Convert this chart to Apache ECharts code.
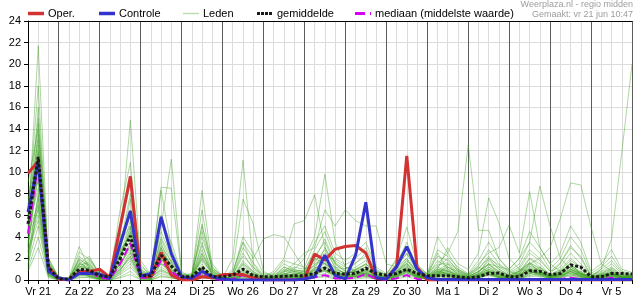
<!DOCTYPE html>
<html><head><meta charset="utf-8">
<script src="https://cdn.jsdelivr.net/npm/echarts@6/dist/echarts.min.js"></script>
<style>html,body{margin:0;padding:0;background:#fff}#c{width:635px;height:300px}</style>
</head><body><div id="c"></div>
<script>
// Day labels (shown at 12:00 of each day)
const dayLabels = ['Vr 21','Za 22','Zo 23','Ma 24','Di 25','Wo 26','Do 27','Vr 28','Za 29','Zo 30','Ma 1','Di 2','Wo 3','Do 4','Vr 5','Za 6'];
const stepHours = ['00:00','06:00','12:00','18:00'];
const yTicks = [0,2,4,6,8,10,12,14,16,18,20,22,24];
const legendNames = ['Oper.','Controle','Leden','gemiddelde','mediaan (middelste waarde)'];

// Operational run (mm)
const oper = [9.9,11.0,1.2, 0.1,0.0,0.7,0.8, 1.0,0.25,4.9,9.6, 0.45,0.3,2.55,0.45, 0.0,0.0,0.3,0.2, 0.5,0.5,0.5,0.2, 0.0,0.0,0.0,0.0, 0.1,2.4,1.85,2.85, 3.1,3.2,2.5,0.15, 0.1,1.25,11.5,1.2, 0.0,0.0,0.0,0.0, 0.0,0.0,0.0,0.0, 0.0,0.0,0.0,0.0, 0.0,0.0,0.0,0.0, 0.0,0.0,0.0,0.0, 0.0];
// Control run
const controle = [6.3,10.9,0.8, 0.2,0.0,0.6,0.6, 0.55,0.15,3.3,6.4, 0.35,0.6,5.85,2.45, 0.3,0.15,0.8,0.3, 0.1,0.0,0.0,0.0, 0.0,0.0,0.0,0.0, 0.1,0.3,2.3,0.4, 0.1,2.3,7.2,0.2, 0.1,1.2,3.1,1.0, 0.2,0.05,0.05,0.05, 0.05,0.05,0.05,0.05, 0.05,0.05,0.05,0.05, 0.05,0.05,0.05,0.05, 0.05,0.05,0.05,0.05, 0.05];
// Ensemble mean
const gemiddelde = [5.2,11.4,1.2, 0.1,0.1,1.0,0.9, 0.4,0.3,2.0,4.1, 0.4,0.4,2.3,1.3, 0.3,0.3,1.2,0.3, 0.3,0.45,1.0,0.4, 0.3,0.3,0.35,0.4, 0.4,0.6,1.1,0.6, 0.55,0.6,1.1,0.6, 0.45,0.6,1.0,0.6, 0.4,0.4,0.4,0.3, 0.2,0.3,0.6,0.65, 0.3,0.3,0.85,0.8, 0.5,0.6,1.4,1.2, 0.3,0.3,0.6,0.6, 0.55];
// Ensemble median
const mediaan = [4.3,10.8,1.0, 0.0,0.0,0.8,0.8, 0.2,0.1,1.5,3.4, 0.2,0.2,1.8,0.8, 0.1,0.1,0.6,0.1, 0.0,0.1,0.45,0.1, 0.0,0.0,0.05,0.05, 0.05,0.25,0.45,0.15, 0.15,0.2,0.55,0.1, 0.0,0.15,0.45,0.1, 0.0,0.05,0.05,0.0, 0.0,0.0,0.05,0.05, 0.0,0.0,0.05,0.05, 0.0,0.1,0.2,0.1, 0.0,0.05,0.2,0.1, 0.0];

// Ensemble members (Leden)
const lid01 = [5.0,21.7,1.5, 0.1,0.0,1.2,0.8, 0.3,0.2,2.0,5.0, 0.6,0.2,3.0,1.0, 0.1,0.2,1.5,0.3, 0.0,0.2,1.0,0.4, 0.1,0.0,0.3,0.5, 0.4,1.5,2.0,0.8, 0.5,0.9,1.2,0.3, 0.1,0.8,1.5,0.5, 0.2,1.0,0.5,0.2, 0.1,0.4,1.5,0.6, 0.2,0.1,0.5,1.2, 0.3,0.2,1.0,0.5, 0.1,0.3,0.4,0.2, 0.3];
const lid02 = [6.0,18.0,1.0, 0.0,0.1,0.8,1.5, 0.2,0.1,4.0,14.8, 1.5,0.3,2.0,0.8, 0.0,0.1,0.5,0.2, 0.1,0.0,0.6,0.3, 0.0,0.1,0.2,0.4, 0.2,0.6,1.0,0.5, 0.3,0.4,0.8,0.2, 0.0,0.3,0.8,0.3, 0.1,0.5,1.5,0.4, 0.2,0.1,0.8,0.3, 0.1,0.4,1.0,0.6, 0.2,0.5,0.3,0.8, 0.2,0.1,0.6,0.3, 0.2];
const lid03 = [4.0,16.0,2.0, 0.2,0.0,1.5,1.0, 0.5,0.3,6.5,10.9, 0.8,0.2,1.5,0.6, 0.0,0.3,2.5,0.5, 0.2,0.3,1.5,0.8, 0.2,0.1,0.4,0.2, 0.3,1.0,3.0,1.5, 0.8,0.5,0.3,0.6, 0.2,1.0,2.0,0.6, 0.4,1.2,0.8,0.3, 0.2,0.6,2.0,1.0, 0.5,0.3,1.5,0.8, 0.3,0.8,1.5,0.6, 0.2,0.4,0.6,0.3, 0.4];
const lid04 = [3.0,14.5,1.2, 0.1,0.0,2.0,1.2, 0.2,0.1,1.5,3.0, 0.5,0.3,5.0,11.2, 0.8,0.2,1.0,0.3, 0.1,0.2,0.8,0.5, 0.1,0.2,0.5,0.8, 0.6,2.0,1.5,0.8, 0.4,0.6,1.0,0.4, 0.1,0.4,1.0,0.3, 0.2,0.8,0.6,0.4, 0.3,0.5,1.2,0.5, 0.2,0.6,2.0,1.5, 0.4,0.3,0.8,0.4, 0.1,0.3,0.5,0.2, 0.3];
const lid05 = [7.0,13.0,0.8, 0.0,0.1,1.0,0.6, 0.1,0.2,2.5,7.5, 0.4,0.5,8.6,8.5, 0.6,0.1,3.5,0.4, 0.0,0.1,0.5,0.2, 0.1,0.0,0.2,0.3, 0.3,0.8,1.2,0.5, 0.2,0.3,0.5,0.3, 0.1,0.5,1.2,0.4, 0.3,2.5,1.0,0.3, 0.1,0.3,0.8,0.4, 0.2,0.1,0.6,0.9, 0.1,0.3,0.6,0.2, 0.1,0.2,0.3,0.1, 0.2];
const lid06 = [5.5,12.5,1.8, 0.2,0.0,0.5,0.9, 0.3,0.1,1.8,4.5, 1.0,0.4,8.3,3.0, 0.5,0.3,8.3,1.2, 0.3,0.1,1.2,0.6, 0.2,0.1,0.3,0.2, 0.2,1.2,0.8,0.4, 0.6,0.8,0.4,0.2, 0.1,0.6,0.9,0.3, 0.2,0.4,0.3,0.1, 0.1,0.2,0.5,0.3, 0.1,0.2,0.4,0.6, 0.2,0.4,0.8,0.3, 0.1,0.2,0.4,0.2, 0.1];
const lid07 = [2.5,11.5,0.6, 0.0,0.1,1.5,2.2, 0.4,0.2,3.0,6.0, 0.3,0.1,2.5,1.5, 0.2,0.5,6.5,0.8, 0.2,2.0,11.1,1.5, 0.3,0.2,0.6,0.4, 0.3,0.5,0.9,0.4, 0.2,0.5,0.6,0.3, 0.2,0.8,1.5,0.5, 0.3,0.6,0.4,0.2, 0.1,0.3,0.6,0.2, 0.1,0.3,0.8,0.5, 0.2,0.6,1.2,0.7, 0.2,0.4,0.5,0.3, 0.2];
const lid08 = [6.5,11.0,1.4, 0.1,0.0,0.9,1.8, 0.6,0.3,2.2,5.5, 0.7,0.2,4.0,2.0, 0.3,0.2,5.2,1.0, 0.1,1.0,7.5,5.2, 0.8,0.3,0.4,0.3, 0.2,0.7,1.8,0.6, 0.4,0.3,0.7,0.2, 0.1,0.3,0.7,0.2, 0.2,0.3,0.2,0.1, 0.1,0.2,0.4,0.2, 0.1,0.2,0.3,0.4, 0.1,0.2,0.5,0.3, 0.1,0.1,0.3,0.1, 0.2];
const lid09 = [4.5,10.0,0.9, 0.0,0.2,3.1,1.0, 0.4,0.2,1.2,3.5, 0.4,0.6,3.5,1.0, 0.2,0.4,4.5,1.0, 0.4,0.6,3.5,2.0, 3.8,4.2,4.0,2.5, 1.0,2.5,1.5,0.8, 0.5,1.0,1.5,0.5, 0.2,0.5,1.0,0.4, 0.1,0.7,0.5,0.3, 0.2,0.4,0.8,0.3, 0.2,0.5,1.2,0.8, 0.4,0.6,0.9,0.5, 0.2,0.3,0.6,0.3, 0.3];
const lid10 = [3.5,9.5,0.7, 0.1,0.0,0.6,0.4, 0.1,0.0,0.8,2.5, 0.2,0.3,1.8,0.9, 0.1,0.1,0.9,0.2, 0.1,0.1,0.5,0.3, 0.3,0.8,2.0,5.2, 5.5,7.9,3.0,1.2, 0.6,0.8,0.6,0.3, 0.1,0.4,0.8,0.3, 0.2,0.5,0.4,0.2, 0.1,0.3,0.5,0.2, 0.1,0.2,0.6,0.3, 0.2,0.3,0.4,0.2, 0.1,0.2,0.3,0.1, 0.2];
const lid11 = [8.5,9.0,1.1, 0.2,0.1,1.8,0.7, 0.3,0.2,2.8,4.0, 0.5,0.2,2.0,0.7, 0.1,0.3,2.0,0.5, 0.1,0.2,0.7,0.4, 0.2,0.3,0.5,1.0, 2.0,4.0,9.8,3.5, 1.2,0.8,0.5,0.3, 0.2,0.6,1.2,0.4, 0.2,0.8,0.6,0.3, 0.2,0.4,0.7,0.3, 0.2,0.4,1.0,0.6, 0.3,0.4,0.7,0.4, 0.2,0.3,0.4,0.2, 0.3];
const lid12 = [2.0,8.0,0.5, 0.0,0.0,0.7,0.5, 0.2,0.1,1.0,2.0, 0.2,0.1,1.2,0.6, 0.0,0.2,1.2,0.3, 0.0,0.1,0.4,0.2, 0.1,0.2,0.8,1.5, 2.5,3.0,6.5,5.0, 6.5,5.5,5.0,5.0, 1.5,1.2,2.0,0.8, 0.4,1.0,0.8,0.4, 0.2,0.5,1.0,0.5, 0.3,0.4,0.8,0.5, 0.3,0.5,0.6,0.3, 0.1,0.3,0.5,0.2, 0.2];
const lid13 = [1.2,7.5,0.4, 0.0,0.1,1.0,0.3, 0.1,0.0,0.6,1.5, 0.1,0.0,0.8,0.4, 0.0,0.1,0.6,0.2, 0.0,0.1,0.3,0.2, 0.0,0.1,0.2,0.5, 0.8,1.8,2.5,1.8, 1.2,0.9,1.5,0.8, 0.5,2.0,4.9,1.5, 0.5,4.0,2.5,1.0, 0.5,1.2,0.8,0.4, 0.3,0.6,1.5,0.8, 0.4,0.8,1.5,0.6, 0.2,0.5,0.8,0.3, 0.4];
const lid14 = [4.2,7.0,0.8, 0.1,0.0,0.4,0.6, 0.2,0.1,1.5,2.8, 0.3,0.2,1.0,0.5, 0.1,0.2,1.0,0.4, 0.1,0.2,0.6,0.3, 0.1,0.2,0.4,0.6, 0.5,1.0,1.5,0.7, 0.4,0.6,0.8,0.4, 0.2,0.7,1.8,0.9, 0.6,1.5,2.5,4.5, 12.5,4.6,4.6,2.0, 0.8,0.5,1.0,0.7, 0.4,0.6,1.0,0.5, 0.2,0.4,0.6,0.3, 0.3];
const lid15 = [3.8,6.5,0.6, 0.0,0.1,0.8,1.2, 0.3,0.2,1.0,2.2, 0.2,0.1,1.5,0.8, 0.1,0.1,0.8,0.3, 0.1,0.1,0.5,0.3, 0.1,0.1,0.3,0.4, 0.4,0.9,1.2,0.6, 0.3,0.5,0.9,0.4, 0.2,0.5,1.0,0.5, 0.3,1.0,3.0,1.5, 1.0,2.5,7.6,5.3, 2.0,1.0,0.8,0.5, 0.3,0.5,0.8,0.4, 0.2,0.3,0.5,0.2, 0.2];
const lid16 = [2.8,6.0,0.5, 0.0,0.0,0.6,0.4, 0.1,0.1,0.7,1.8, 0.1,0.2,0.9,0.5, 0.0,0.1,0.5,0.2, 0.0,0.1,0.4,0.2, 0.0,0.1,0.2,0.3, 0.3,0.6,0.9,0.5, 0.2,0.4,0.6,0.3, 0.1,0.4,0.8,0.4, 0.2,0.6,1.2,0.8, 0.5,1.5,2.5,3.0, 5.1,2.5,8.2,3.0, 1.5,0.8,1.2,0.6, 0.3,0.5,0.7,0.3, 0.3];
const lid17 = [1.5,5.0,0.4, 0.0,0.0,0.5,0.3, 0.1,0.0,0.5,1.2, 0.1,0.1,0.6,0.3, 0.0,0.1,0.4,0.1, 0.0,0.0,0.3,0.1, 0.0,0.0,0.1,0.2, 0.2,0.4,0.6,0.3, 0.2,0.3,0.4,0.2, 0.1,0.3,0.6,0.3, 0.2,0.5,0.8,0.5, 0.3,0.8,1.5,1.2, 1.0,2.0,3.5,8.7, 5.0,2.0,1.0,0.6, 0.3,0.4,0.6,0.3, 0.2];
const lid18 = [1.0,4.0,0.3, 0.0,0.0,0.3,0.2, 0.0,0.0,0.3,0.8, 0.0,0.0,0.4,0.2, 0.0,0.0,0.3,0.1, 0.0,0.0,0.2,0.1, 0.0,0.0,0.1,0.1, 0.1,0.3,0.4,0.2, 0.1,0.2,0.3,0.1, 0.0,0.2,0.5,0.2, 0.1,0.4,0.6,0.3, 0.2,0.5,0.8,0.6, 0.4,0.8,1.5,2.0, 3.0,5.7,9.0,8.8, 4.9,1.5,0.8,0.4, 0.3];
const lid19 = [0.8,3.0,0.2, 0.0,0.0,0.2,0.3, 0.0,0.0,0.2,0.5, 0.0,0.0,0.3,0.2, 0.0,0.0,0.2,0.1, 0.0,0.0,0.1,0.1, 0.0,0.0,0.1,0.1, 0.1,0.2,0.3,0.1, 0.1,0.1,0.2,0.1, 0.0,0.1,0.3,0.1, 0.1,0.3,0.4,0.2, 0.1,0.3,0.5,0.3, 0.2,0.5,0.8,0.6, 0.4,0.8,1.2,0.6, 0.3,1.0,3.8,11.8, 20.0];
const lid20 = [6.0,12.0,1.0, 0.1,0.1,1.4,1.6, 0.4,0.3,3.5,5.0, 0.6,0.3,3.0,1.2, 0.2,0.3,2.8,0.6, 0.1,0.4,2.5,1.0, 0.3,0.4,1.0,0.8, 0.6,2.2,3.5,1.5, 0.8,1.2,1.8,0.6, 0.3,1.2,2.5,1.0, 0.4,1.8,1.2,0.6, 0.4,1.0,2.2,1.2, 0.6,1.0,2.5,1.8, 0.8,1.2,2.5,1.5, 0.5,0.8,1.5,0.6, 0.5];
const lid21 = [5.0,10.5,1.6, 0.2,0.0,2.2,1.4, 0.5,0.2,2.6,4.2, 0.8,0.4,2.2,1.8, 0.4,0.2,2.2,0.7, 0.2,0.3,1.8,0.8, 0.2,0.3,0.7,1.2, 1.0,1.6,2.8,1.2, 1.0,1.5,2.5,0.9, 0.4,0.9,1.8,0.7, 0.3,1.2,2.0,0.8, 0.3,0.8,1.5,0.8, 0.5,0.8,2.0,1.2, 0.6,1.5,3.0,2.2, 0.4,0.7,1.2,0.5, 0.4];
const lid22 = [3.2,9.8,1.3, 0.1,0.1,1.1,2.0, 0.7,0.4,3.8,6.5, 1.2,0.6,4.5,2.2, 0.5,0.4,3.2,0.9, 0.3,0.5,2.2,1.2, 0.4,0.6,1.5,1.0, 0.7,1.4,2.2,1.0, 0.6,1.0,1.4,0.7, 0.3,0.8,1.6,0.6, 0.3,0.9,1.5,0.7, 0.4,0.7,1.8,1.0, 0.4,0.9,1.6,1.0, 0.5,1.0,2.0,1.2, 0.3,0.6,1.0,0.4, 0.5];
const lid23 = [4.8,8.5,1.0, 0.0,0.2,1.6,1.1, 0.3,0.3,2.4,3.6, 0.5,0.3,3.8,1.6, 0.3,0.2,1.8,0.5, 0.2,0.2,1.4,0.6, 0.1,0.3,0.9,0.7, 0.5,1.1,1.6,0.9, 0.7,0.7,1.0,0.5, 0.2,0.6,1.3,0.5, 0.2,0.7,1.0,0.5, 0.3,0.6,1.2,0.7, 0.3,0.7,1.3,0.9, 0.4,0.7,1.6,1.0, 0.3,0.5,0.9,0.4, 0.3];
const lid24 = [9.0,14.0,2.0, 0.3,0.1,1.3,0.9, 0.4,0.2,3.2,8.0, 0.9,0.5,6.0,2.5, 0.4,0.6,4.0,1.2, 0.3,0.4,3.0,1.6, 0.5,0.3,1.2,0.9, 0.8,2.8,4.5,2.0, 1.4,2.0,3.0,1.0, 0.5,1.5,3.5,1.2, 0.6,2.2,1.8,1.0, 0.5,1.3,2.8,1.5, 0.8,1.5,3.5,2.5, 1.0,2.0,4.0,2.8, 0.6,1.2,2.2,0.8, 0.6];
const lid25 = [2.2,7.8,0.9, 0.1,0.0,0.9,0.7, 0.2,0.1,1.6,3.2, 0.4,0.1,2.8,1.0, 0.2,0.1,1.3,0.4, 0.1,0.1,0.9,0.5, 0.1,0.2,0.6,0.5, 0.4,0.9,1.3,0.7, 0.4,0.6,0.9,0.4, 0.2,0.5,1.1,0.4, 0.2,0.6,0.9,0.4, 0.2,0.5,1.0,0.6, 0.3,0.6,1.1,0.7, 0.3,0.6,1.3,0.8, 0.2,0.4,0.7,0.3, 0.2];
const lid26 = [7.5,11.8,1.5, 0.2,0.1,2.6,1.9, 0.6,0.4,4.5,9.0, 1.8,0.5,5.5,3.5, 0.6,0.5,5.0,1.5, 0.4,0.6,4.0,2.5, 0.6,0.5,1.8,1.5, 1.2,3.5,5.0,2.5, 1.8,2.5,3.5,1.2, 0.6,1.8,3.0,1.0, 0.5,2.8,2.2,1.2, 0.6,1.8,3.5,2.0, 1.0,2.0,4.5,3.0, 1.5,2.5,5.0,3.5, 0.8,1.5,2.8,1.0, 0.7];
const lid27 = [1.8,6.8,0.7, 0.0,0.0,0.7,0.5, 0.2,0.1,1.2,2.6, 0.3,0.2,2.0,0.8, 0.1,0.1,1.0,0.3, 0.1,0.1,0.6,0.3, 0.1,0.1,0.4,0.4, 0.3,0.7,1.0,0.5, 0.3,0.4,0.7,0.3, 0.1,0.4,0.9,0.3, 0.2,0.5,0.7,0.3, 0.2,0.4,0.9,0.5, 0.2,0.5,0.9,0.6, 0.3,0.5,1.0,0.6, 0.2,0.3,0.6,0.2, 0.2];
const lid28 = [6.8,15.0,1.7, 0.1,0.1,1.9,1.3, 0.5,0.3,2.0,4.8, 0.7,0.4,2.6,1.4, 0.3,0.2,2.4,0.8, 0.2,0.8,3.5,1.2, 0.3,0.4,1.2,0.8, 0.9,1.9,3.8,1.6, 1.0,1.6,2.2,0.8, 0.4,1.4,2.4,0.9, 0.4,1.4,1.6,0.9, 0.4,1.1,2.0,1.4, 0.7,1.2,2.8,2.0, 0.8,1.6,3.2,2.0, 0.4,1.0,1.8,0.7, 0.5];
const lid29 = [2.6,5.5,0.5, 0.0,0.0,0.5,0.4, 0.1,0.1,0.9,2.2, 0.2,0.1,1.6,0.6, 0.1,0.1,0.7,0.2, 0.0,0.1,0.4,0.2, 0.0,0.1,0.3,0.3, 0.2,0.5,0.8,0.4, 0.2,0.3,0.5,0.2, 0.1,0.3,0.7,0.2, 0.1,0.4,0.5,0.2, 0.1,0.3,0.7,0.3, 0.2,0.4,0.7,0.4, 0.2,0.4,0.8,0.4, 0.1,0.2,0.4,0.1, 0.1];
const lid30 = [4.4,13.5,1.1, 0.1,0.1,1.3,1.0, 0.3,0.2,2.2,4.4, 0.6,0.3,3.2,1.7, 0.3,0.3,2.0,0.6, 0.2,0.3,1.6,0.7, 0.2,0.3,0.8,0.6, 0.6,1.3,2.0,1.1, 0.6,0.8,1.2,0.5, 0.3,0.7,1.4,0.6, 0.3,0.8,1.2,0.6, 0.3,0.8,1.4,0.8, 0.4,0.8,1.6,1.1, 0.5,0.9,1.8,1.2, 0.3,0.6,1.1,0.5, 0.4];
const leden = [lid01,lid02,lid03,lid04,lid05,lid06,lid07,lid08,lid09,lid10,lid11,lid12,lid13,lid14,lid15,lid16,lid17,lid18,lid19,lid20,lid21,lid22,lid23,lid24,lid25,lid26,lid27,lid28,lid29,lid30];

// 6-hourly time steps starting Vr 21 06:00
const categories = [];
for (let i = 0; i < oper.length; i++) {
  const h = 6 + 6 * i;
  categories.push(dayLabels[Math.floor(h / 24)] + ' ' + stepHours[(h % 24) / 6]);
}

const FONT = 'Arial, "Liberation Sans", sans-serif';
const C_OPER = '#d23232', C_CTRL = '#3434cc', C_MEAN = '#1a1a1a', C_MED = '#d800f0';
const C_LID = 'rgba(60,160,30,0.42)';
const chart = echarts.init(document.getElementById('c'), null, {renderer: 'canvas'});

const series = [];
leden.forEach(function (d) {
  series.push({
    name: 'Leden', type: 'line', data: d, showSymbol: false, symbol: 'none',
    silent: true, z: 2, lineStyle: {width: 1, color: C_LID}, emphasis: {disabled: true}
  });
});
series.push({name: legendNames[4], type: 'line', data: mediaan, symbol: 'none', z: 3, silent: true,
  lineStyle: {width: 2, color: C_MED, type: [8, 4], cap: 'butt'}, emphasis: {disabled: true}});
series.push({name: legendNames[0], type: 'line', data: oper, symbol: 'none', z: 4, silent: true,
  lineStyle: {width: 3, color: C_OPER}, emphasis: {disabled: true}});
series.push({name: legendNames[1], type: 'line', data: controle, symbol: 'none', z: 5, silent: true,
  lineStyle: {width: 3, color: C_CTRL}, emphasis: {disabled: true}});
series.push({name: legendNames[3], type: 'line', data: gemiddelde, symbol: 'none', z: 6, silent: true,
  lineStyle: {width: 3, color: C_MEAN, type: [3, 2], cap: 'butt'}, emphasis: {disabled: true}});

// Legend drawn as graphic items (line sample + label)
const legendItems = [
  {x: 28, tx: 48, stroke: C_OPER, w: 3.5, dash: null},
  {x: 99, tx: 119, stroke: C_CTRL, w: 3.5, dash: null},
  {x: 183, tx: 203, stroke: 'rgba(60,160,30,0.35)', w: 1.5, dash: null},
  {x: 257, tx: 277, stroke: C_MEAN, w: 3, dash: [3, 1]},
  {x: 355, tx: 375, stroke: C_MED, w: 3, dash: [10, 5]}
];
const graphic = [];
legendItems.forEach(function (it, k) {
  graphic.push({type: 'line', silent: true,
    shape: {x1: it.x, y1: 13.5, x2: it.x + 16, y2: 13.5},
    style: {stroke: it.stroke, lineWidth: it.w, lineDash: it.dash, lineCap: 'butt'}});
  graphic.push({type: 'text', silent: true, x: it.tx, y: 13.5,
    style: {text: legendNames[k], fill: '#000', font: '11px ' + FONT, verticalAlign: 'middle', align: 'left'}});
});
graphic.push({type: 'text', silent: true, right: 2, top: 0,
  style: {text: 'Weerplaza.nl - regio midden', fill: '#9d9d9d', font: '9px ' + FONT}});
graphic.push({type: 'text', silent: true, right: 2, top: 10,
  style: {text: 'Gemaakt: vr 21 jun 10:47', fill: '#9d9d9d', font: '9px ' + FONT}});

chart.setOption({
  animation: false,
  backgroundColor: '#ffffff',
  textStyle: {fontFamily: FONT},
  grid: {left: 28, right: 1, top: 21, bottom: 20, containLabel: false},
  graphic: graphic,
  xAxis: [
    {
      type: 'category', data: categories, boundaryGap: false,
      axisLine: {show: true, lineStyle: {color: '#000', width: 1}},
      axisTick: {show: true, interval: 0, length: 4, lineStyle: {color: '#000'}},
      axisLabel: {
        interval: 0, margin: 6, fontSize: 11, color: '#000', fontFamily: FONT,
        formatter: function (v, idx) {
          return (idx % 4 === 1) ? dayLabels[(idx - 1) / 4] : '';
        }
      },
      splitLine: {show: true, interval: 0,
        lineStyle: {width: 1, color: ['#dcdcdc', '#dcdcdc', '#dcdcdc', '#5c5c5c']}}
    },
    {
      type: 'category', data: categories, boundaryGap: false, position: 'top',
      axisLine: {show: true, lineStyle: {color: '#000', width: 1}},
      axisTick: {show: false}, axisLabel: {show: false}, splitLine: {show: false}
    }
  ],
  yAxis: {
    type: 'value', min: yTicks[0], max: yTicks[yTicks.length - 1], interval: 2,
    axisLine: {show: true, lineStyle: {color: '#000', width: 1}},
    axisTick: {show: true, length: 4, lineStyle: {color: '#000'}},
    axisLabel: {fontSize: 11, color: '#000', margin: 7, fontFamily: FONT},
    splitLine: {show: true, lineStyle: {color: '#dcdcdc', width: 1}}
  },
  series: series
});
</script>
</body></html>
